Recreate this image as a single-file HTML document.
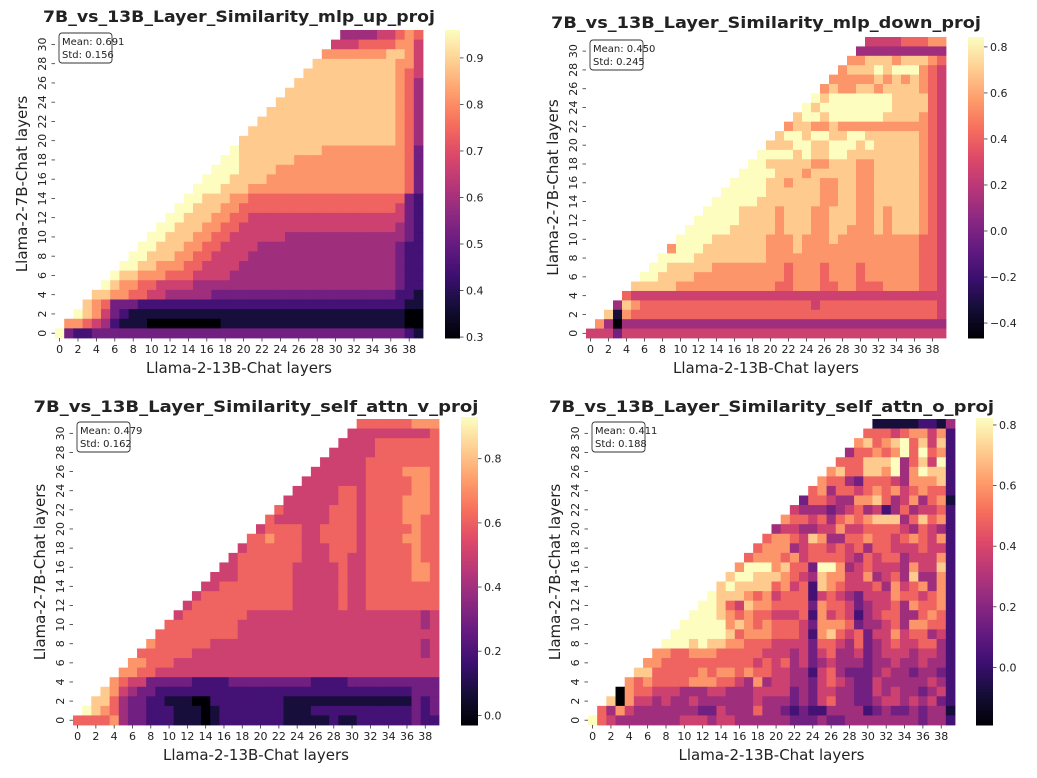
<!DOCTYPE html>
<html><head><meta charset="utf-8"><style>
body{margin:0;background:#fff}
svg text{font-family:"DejaVu Sans","Liberation Sans",sans-serif;fill:#222}
</style></head><body>
<svg id="fig" width="1037" height="773" viewBox="0 0 1037 773" xmlns="http://www.w3.org/2000/svg"></svg>
<script>
// ---- data: rows listed from layer 31 (top) down to layer 0; digit 0-9 = level within colour range; '.' = masked
const upRows = [
".......... .......... .......... .444455676",
".......... .......... .......... 5556666775",
".......... .......... .........7 7777778875",
".......... .......... ........88 8888888775",
".......... .......... .......888 8888888765",
".......... .......... ......8888 8888888764",
".......... .......... .....88888 8888888764",
".......... .......... ....888888 8888888764",
".......... .......... ...8888888 8888888764",
".......... .......... ..88888888 8888888764",
".......... .......... .888888888 8888888764",
".......... .......... 8888888888 8888888764",
".......... .........9 8888888887 7777777763",
".......... ........99 8888887777 7777777763",
".......... .......999 8888777777 7777777763",
".......... ......9998 8887777777 7777777763",
".......... .....99988 8777777777 7777777763",
".......... ....998887 7666666666 6666666632",
".......... ...9988877 6666666666 6666666532",
".......... ..99888776 6555555555 5555555532",
".......... .998887766 5555555555 5555555432",
".......... 9988877665 5555544444 4444444432",
".........9 9888776655 5544444444 4444444322",
"........99 8887766555 5444444444 4444444322",
".......998 8777665555 4444444444 4444444322",
"......9887 7766655554 4444444444 4444444322",
".....98776 6555544444 4444444444 4444444322",
"....887766 5544444333 3333333333 3333333221",
"...8763332 2222222222 2222222222 2222222211",
"..98753211 1111111111 1111111111 1111111100",
".776542111 0000000011 1111111111 1111111100",
"9322333333 3333333333 3333333333 3333333321"];
const downRows = [
".......... .......... .......... .555566677",
".......... .......... .......... 4444444444",
".......... .......... .........7 7888788876",
".......... .......... ........78 8898999765",
".......... .......... .......777 7787878765",
".......... .......... ......7877 8878888765",
".......... .......... .....98999 9999888865",
".......... .......... ....989999 9999888865",
".......... .......... ...8998999 9998888765",
".......... .......... ..78877877 7777777765",
".......... .......... .899899889 9888888765",
".......... .......... 8889988999 8988888765",
".......... .........9 9998988998 8888888765",
".......... ........99 8888877888 7788888765",
".......... .......999 9888788888 7788888765",
".......... ......9999 8878887788 7788888765",
".......... .....99999 8888887788 7788888765",
".......... ....999998 8888887788 7788888765",
".......... ...9999888 8788877888 7787888765",
".......... ..99999888 8788877888 7787888765",
".......... .999998888 8788877887 7787888765",
".......... 9999888888 7778777877 7777777665",
".........7 9998888888 7778777777 7777777665",
"........99 9988888888 7777777777 7777777665",
".......998 8888777777 7767776777 6777777665",
"......9988 8877777777 7767776777 6777777665",
".....88888 7777777777 7667776677 6667777665",
"....655555 5555555555 5555555555 5555555555",
"...4876666 6666666666 6666656666 6666666665",
"..81766666 6666666666 6666666666 6666666665",
".740444444 4444444444 4444444444 4444444444",
"5553555555 5555555555 5555555555 5555555555"];
const vRows = [
".......... .......... .......... .666666777",
".......... .......... .......... 5555555556",
".......... .......... .........5 5556666666",
".......... .......... ........55 5556666666",
".......... .......... .......555 5566666666",
".......... .......... ......5555 5566667776",
".......... .......... .....55555 5566666776",
".......... .......... ....555556 6566666776",
".......... .......... ...5555556 6566667776",
".......... .......... ..65555566 6566667776",
".......... .......... .655555566 6566667766",
".......... .......... 5666655666 6566666766",
".......... .........6 6766655666 6566667766",
".......... ........56 6666655566 6566666766",
".......... .......566 6666655566 5566666766",
".......... ......5566 6666555556 5566666776",
".......... .....55566 6666555556 5566666776",
".......... ....556666 6666555556 5566666666",
".......... ...5666666 6666555556 5566666666",
".......... ..56666666 6666555556 5566666666",
".......... .566666665 5555555555 5555555545",
".......... 6666666655 5555555555 5555555545",
".........6 6666666655 5555555555 5555555555",
"........76 6666655555 5555555555 5555555545",
".......666 6665555555 5555555555 5555555545",
"......7766 6555555555 5555555555 5555555555",
".....77665 5555555555 5555555555 5555555555",
"....765533 3332222333 3333332222 3333333333",
"...8754332 2222222222 2222222222 2222222333",
"..88643322 1110022222 2221111111 1111111323",
".987643322 2111012222 2221112222 2222222323",
"6666743322 2111012222 2221111121 1222222322"];
const oRows = [
".......... .......... .......... .111112214",
".......... .......... .......... 6665677572",
".......... .......... .........7 8678968582",
".......... .......... ........46 6767969672",
".......... .......... .......666 8889468592",
".......... .......... ......7866 8879479882",
".......... .......... .....76643 6665477782",
".......... .......... ....674665 6767567662",
".......... .......... ...3665447 7864574671",
".......... .......... ..54443456 4524645562",
".......... .......... .766564676 7888468672",
".......... .......... 4554455755 6666546542",
".......... .........6 7765874466 7665676572",
".......... ........67 7745665656 4665556552",
".......... .......677 7675666654 6566455572",
".......... ......7999 7866399745 6555475582",
".......... .....89988 8765487755 7456484472",
".......... ....898888 6756287655 5647567472",
".......... ...9888767 5666256543 5557665672",
".......... ..99865877 6666376653 4556476672",
".......... .999876766 5556275652 4566446762",
".......... 9999978767 6665377763 4456477662",
".........9 9999986777 6665278656 3557566452",
"........99 9898877666 5555366546 3456556642",
".......776 6777666665 5545356445 3455545542",
"......7766 6666666656 5645345444 3445445442",
".....88666 6676776766 5544256433 3454434432",
"....767666 6777665474 5544356543 3544444542",
"...0766555 4445544455 5534355443 3545443452",
"..80755454 4544444454 4434356443 3455454532",
".647544444 4433544464 4323224444 2343343441",
"9654444444 5554554444 4433343344 4444443442"];
const xTickLabels = ["0","2","4","6","8","10","12","14","16","18","20","22","24","26","28","30","32","34","36","38"];
const yTickLabels = ["0","2","4","6","8","10","12","14","16","18","20","22","24","26","28","30"];
const upTicks = [0.3,0.4,0.5,0.6,0.7,0.8,0.9];
const downTicks = [-0.4,-0.2,0.0,0.2,0.4,0.6,0.8];
const vTicks = [0.0,0.2,0.4,0.6,0.8];
const oTicks = [0.0,0.2,0.4,0.6,0.8];
const upStats = ["0.691","0.156"], downStats=["0.450","0.245"], vStats=["0.479","0.162"], oStats=["0.411","0.188"];

const NS="http://www.w3.org/2000/svg";
const svg=document.getElementById('fig');
function mk(tag,attrs,parent){const e=document.createElementNS(NS,tag);for(const k in attrs)e.setAttribute(k,attrs[k]);(parent||svg).appendChild(e);return e;}
const stops=[[0,[0,0,4]],[0.1,[20,14,54]],[0.2,[59,15,112]],[0.3,[100,26,128]],[0.4,[140,41,129]],[0.5,[183,55,121]],[0.6,[222,73,104]],[0.7,[247,112,92]],[0.8,[254,159,109]],[0.9,[254,207,146]],[1,[252,253,191]]];
function magma(t){t=Math.max(0,Math.min(1,t));for(let i=1;i<stops.length;i++){if(t<=stops[i][0]){const a=stops[i-1],b=stops[i];const f=(t-a[0])/(b[0]-a[0]);const c=a[1].map((v,j)=>Math.round(v+(b[1][j]-v)*f));return `rgb(${c[0]},${c[1]},${c[2]})`;}}return 'rgb(252,253,191)';}
function parseRows(rows,vmin,vmax){return rows.map(r=>r.replace(/ /g,'').split('').map(ch=>ch==='.'?null:vmin+(+ch)/9*(vmax-vmin)));}

function panel(cfg){
  const g=mk('g',{});
  
  
  const vals=parseRows(cfg.rows,cfg.vmin,cfg.vmax);
  const nR=32,nC=40,cw=(cfg.x1-cfg.x0)/nC,ch=(cfg.y1-cfg.y0)/nR;
  const xs=c=>cfg.x0+c*cw, ys=r=>cfg.y1-(r+1)*ch;
  const norm=v=>(v-cfg.vmin)/(cfg.vmax-cfg.vmin);
  vals.forEach((row,i)=>{const r=nR-1-i;row.forEach((v,c)=>{if(v===null)return;
    const cell=mk('rect',{x:xs(c).toFixed(2),y:ys(r).toFixed(2),width:(cw+0.4).toFixed(2),height:(ch+0.4).toFixed(2),fill:magma(norm(v))},g);
    
    });});
  xTickLabels.forEach(l=>{const c=+l;const x=xs(c)+cw/2;
    mk('line',{x1:x,x2:x,y1:cfg.y1,y2:cfg.y1+3.5,stroke:'#333','stroke-width':0.8},g);
    const t=mk('text',{x:x,y:cfg.y1+15,'font-size':11,'text-anchor':'middle'},g);t.textContent=l;
    });
  yTickLabels.forEach(l=>{const r=+l;const y=ys(r)+ch/2;
    mk('line',{x1:cfg.x0-3.5,x2:cfg.x0,y1:y,y2:y,stroke:'#333','stroke-width':0.8},g);
    const tx=cfg.x0-9;const t=mk('text',{x:tx,y:y,'font-size':11,'text-anchor':'middle',transform:`rotate(-90 ${tx} ${y})`},g);t.textContent=l;
    });
  const ti=mk('text',{x:(cfg.x0+cfg.x1)/2,y:cfg.ty,'font-size':16,'font-weight':'bold','text-anchor':'middle',fill:'#000',textLength:cfg.tl,lengthAdjust:'spacingAndGlyphs'},g);ti.textContent=cfg.title;
  
  const xl=mk('text',{x:(cfg.x0+cfg.x1)/2,y:cfg.y1+35,'font-size':15,'text-anchor':'middle'},g);xl.textContent='Llama-2-13B-Chat layers';
  
  const ly=(cfg.y0+cfg.y1)/2,lx=cfg.x0-28;
  const yl=mk('text',{x:lx,y:ly,'font-size':15,'text-anchor':'middle',transform:`rotate(-90 ${lx} ${ly})`},g);yl.textContent='Llama-2-7B-Chat layers';
  
  const bx=mk('rect',{x:cfg.x0+4,y:cfg.y0+3,width:53,height:30,rx:3,fill:'#fff',stroke:'#333','stroke-width':0.9},g);
  
  const s1=mk('text',{x:cfg.x0+7,y:cfg.y0+15,'font-size':10},g);s1.textContent='Mean: '+cfg.stats[0];
  
  const s2=mk('text',{x:cfg.x0+7,y:cfg.y0+28,'font-size':10},g);s2.textContent='Std: '+cfg.stats[1];
  
  const cb=mk('g',{},g);
  const N=120,h=(cfg.cy1-cfg.cy0)/N;
  for(let i=0;i<N;i++){mk('rect',{x:cfg.cx0,y:(cfg.cy1-(i+1)*h).toFixed(2),width:cfg.cx1-cfg.cx0,height:(h+0.5).toFixed(2),fill:magma((i+0.5)/N)},cb);}
  const cy=v=>cfg.cy1-(v-cfg.vmin)/(cfg.vmax-cfg.vmin)*(cfg.cy1-cfg.cy0);
  cfg.ticks.forEach(v=>{const y=cy(v);
    mk('line',{x1:cfg.cx1,x2:cfg.cx1+3.5,y1:y,y2:y,stroke:'#333','stroke-width':0.8},cb);
    const t=mk('text',{x:cfg.cx1+6,y:y+4,'font-size':11},cb);t.textContent=(v<0?'\u2212':'')+Math.abs(v).toFixed(1);
    });
}
panel({name:'mlp-up-proj-heatmap',rows:upRows,vmin:0.298,vmax:0.96,ticks:upTicks,stats:upStats,x0:55,x1:423,y0:30,y1:338,cx0:445,cx1:460,cy0:30,cy1:338,ty:22,tl:392,title:'7B_vs_13B_Layer_Similarity_mlp_up_proj'});
panel({name:'mlp-down-proj-heatmap',rows:downRows,vmin:-0.465,vmax:0.843,ticks:downTicks,stats:downStats,x0:586,x1:946,y0:37,y1:338,cx0:968,cx1:984,cy0:37,cy1:338,ty:28,tl:430,title:'7B_vs_13B_Layer_Similarity_mlp_down_proj'});
panel({name:'self-attn-v-proj-heatmap',rows:vRows,vmin:-0.03,vmax:0.93,ticks:vTicks,stats:vStats,x0:73,x1:439,y0:419,y1:725,cx0:461,cx1:478,cy0:417,cy1:725,ty:412,tl:445,title:'7B_vs_13B_Layer_Similarity_self_attn_v_proj'});
panel({name:'self-attn-o-proj-heatmap',rows:oRows,vmin:-0.19,vmax:0.823,ticks:oTicks,stats:oStats,x0:588,x1:955,y0:419,y1:725,cx0:976,cx1:993,cy0:418,cy1:725,ty:412,tl:445,title:'7B_vs_13B_Layer_Similarity_self_attn_o_proj'});
</script>
</body></html>
